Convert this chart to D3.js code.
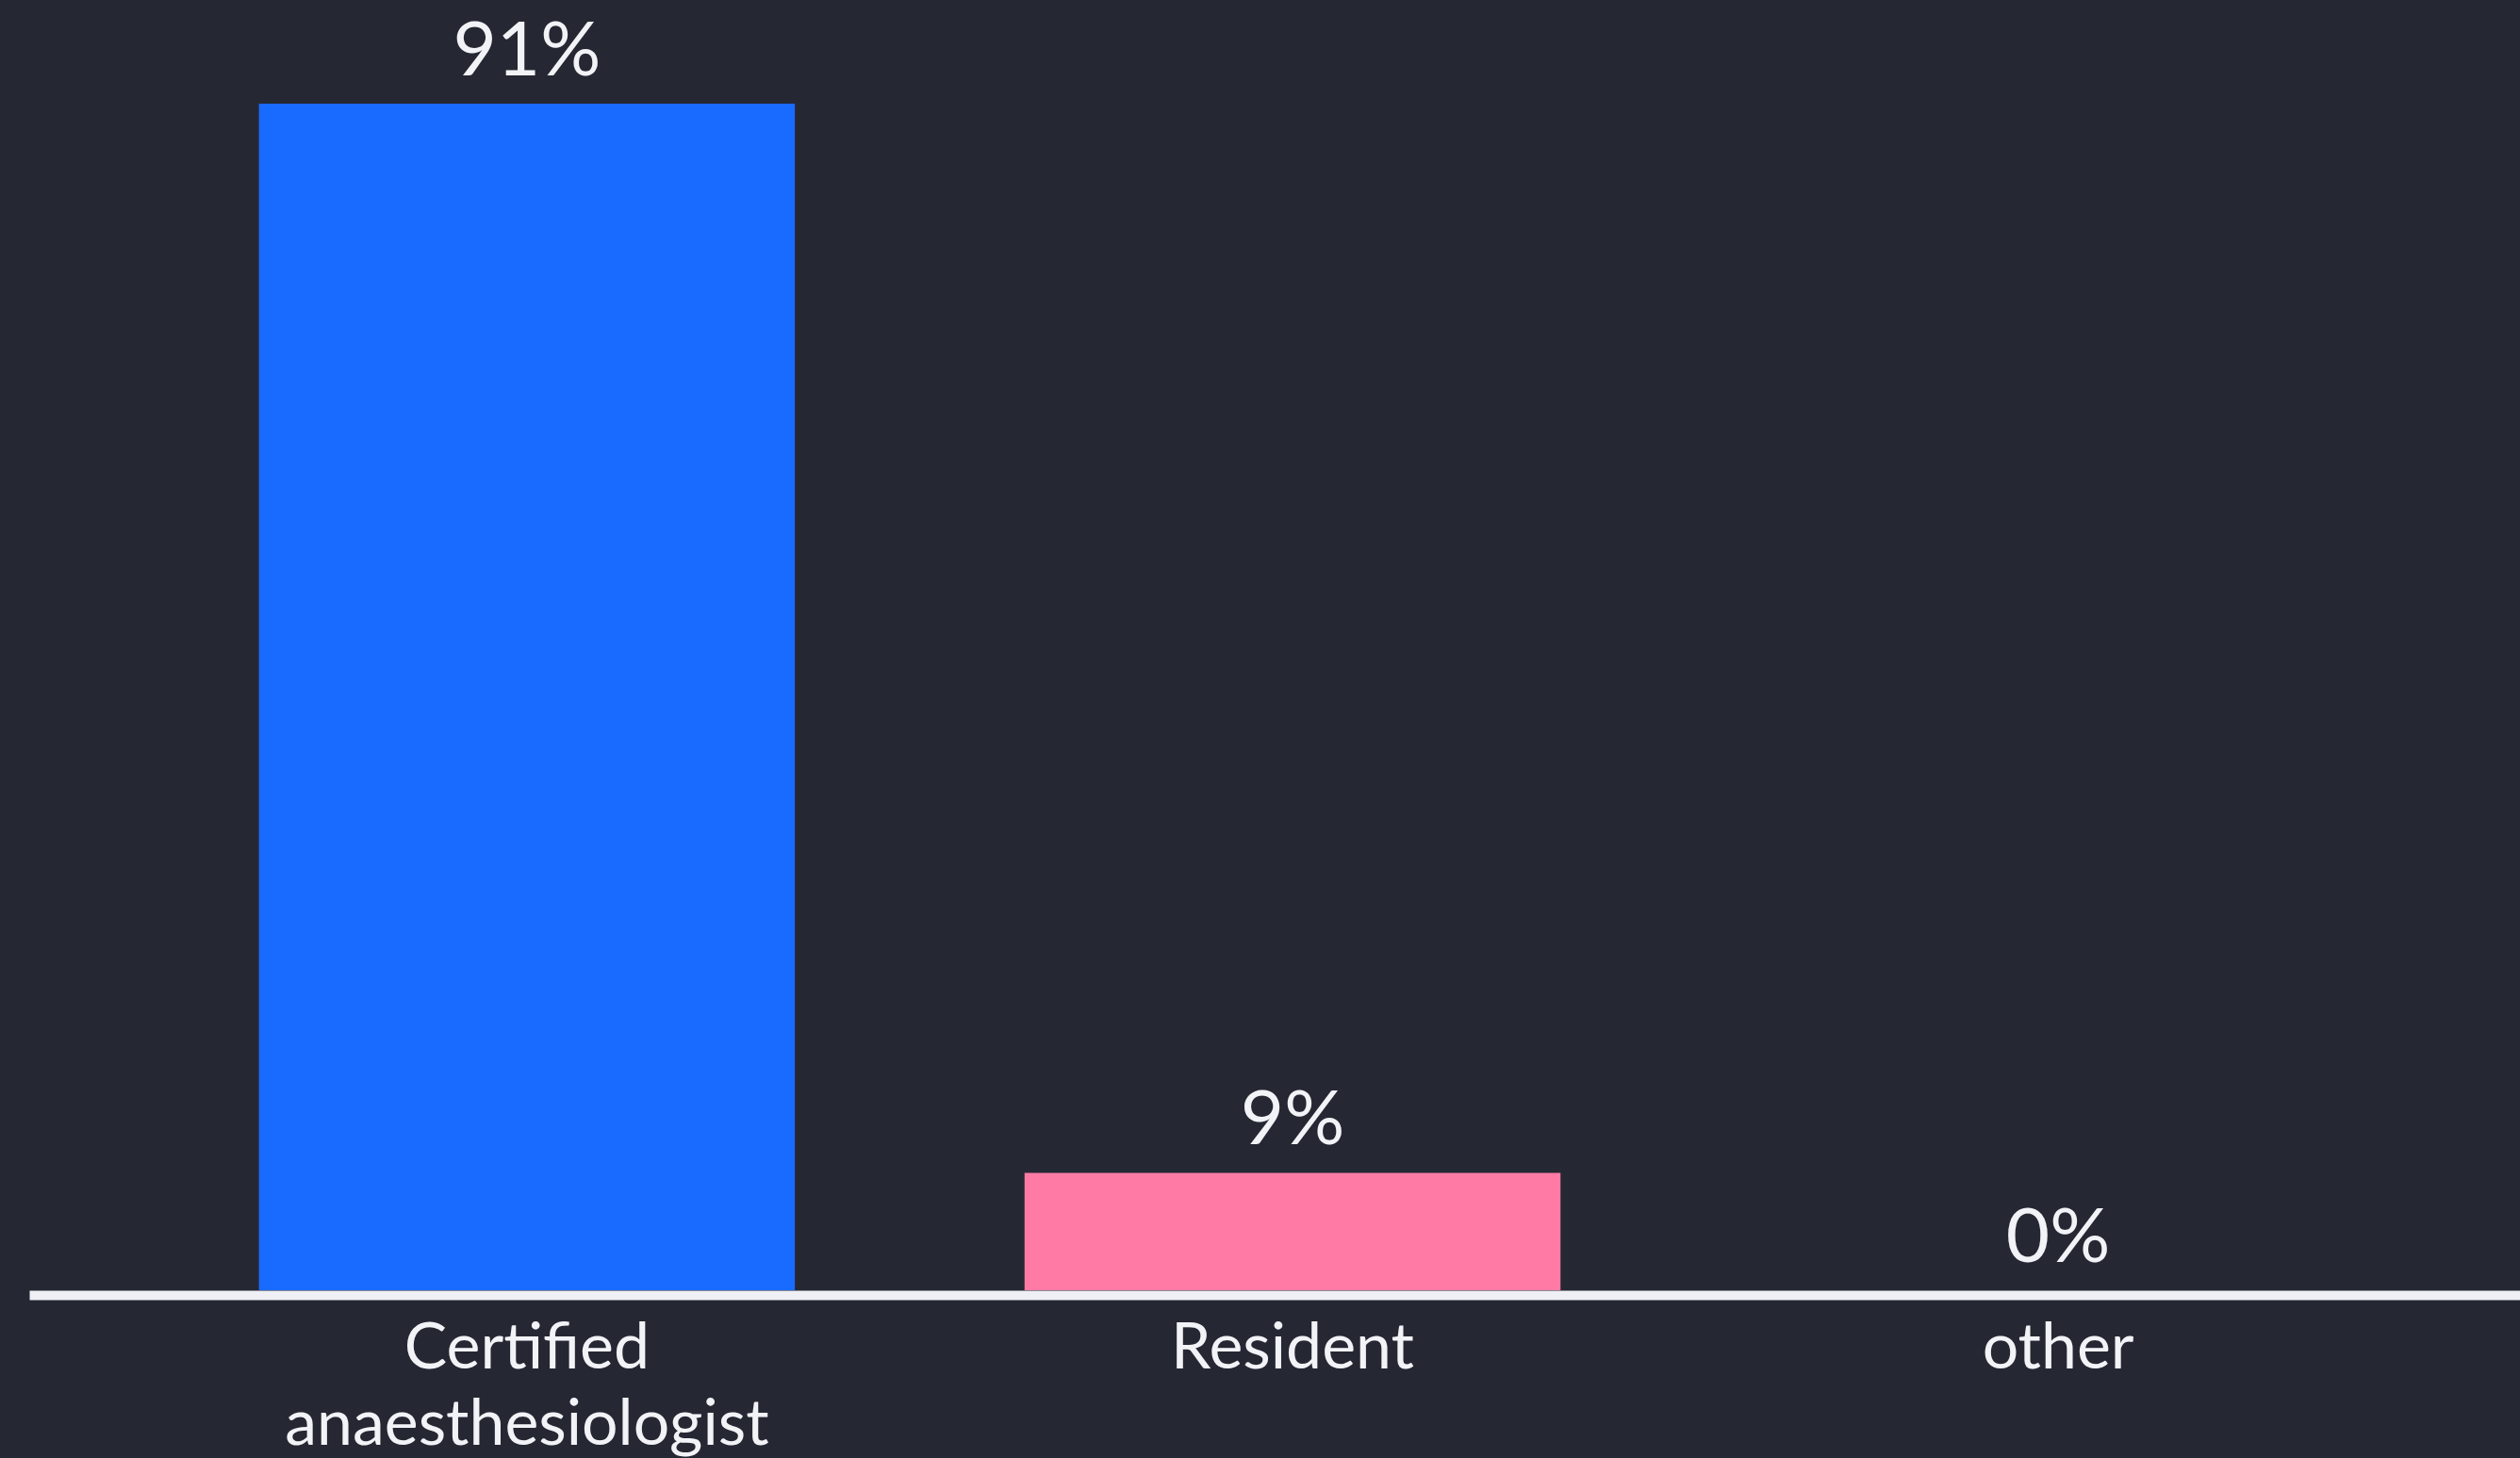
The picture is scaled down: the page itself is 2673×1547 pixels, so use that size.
<!DOCTYPE html>
<html>
<head>
<meta charset="utf-8">
<script src="https://cdn.jsdelivr.net/npm/d3@7"></script>
<style>
    html, body { margin: 0; padding: 0; background: #252833; }
    svg { display: block; }
</style>
</head>
<body>
<div id="chart"></div>
<script>
// answers and their share of votes (percent)
const categories = ["Certified anaesthesiologist", "Resident", "other"];
const labelLines = [["Certified", "anaesthesiologist"], ["Resident"], ["other"]];
const values = [91, 9, 0];
const colors = ["#196aff", "#ff7ba6", "#8fd6c6"];

const width = 2673;
const height = 1547;
const baseline = 1369;

const svg = d3.select("#chart").append("svg")
    .attr("width", width)
    .attr("height", height)
    .style("background", "#252833");

const x = d3.scaleBand()
    .domain(categories)
    .range([31, 2711])
    .padding(0.3);

const y = d3.scaleLinear()
    .domain([0, d3.max(values)])
    .range([baseline, 110]);

const data = categories.map((c, i) => ({ cat: c, value: values[i], color: colors[i], lines: labelLines[i] }));

// bars
svg.append("g").selectAll("rect")
    .data(data)
    .enter()
    .append("rect")
    .attr("x", d => x(d.cat))
    .attr("y", d => y(d.value))
    .attr("width", x.bandwidth())
    .attr("height", d => baseline - y(d.value))
    .attr("fill", d => d.color);

// value labels above the bars
svg.append("g").selectAll("text")
    .data(data)
    .enter()
    .append("text")
    .attr("x", d => x(d.cat) + x.bandwidth() / 2)
    .attr("y", d => y(d.value) - 30)
    .attr("text-anchor", "middle")
    .attr("fill", "#f2f3f7")
    .style("font-family", "Lato, sans-serif")
    .style("font-size", "80px")
    .text(d => d.value + "%");

// x axis: thick white baseline, wrapped category labels
const axis = svg.append("g")
    .attr("transform", "translate(0," + (baseline + 5) + ")")
    .call(d3.axisBottom(x).tickSize(0).tickSizeOuter(0));

axis.select(".domain")
    .attr("stroke", "#eef0f5")
    .attr("stroke-width", 10);

axis.selectAll(".tick text").each(function(d, i) {
    const t = d3.select(this)
        .attr("y", null)
        .attr("dy", null)
        .attr("fill", "#f2f3f7")
        .style("font-family", "Lato, sans-serif")
        .style("font-size", "68px")
        .text(null);
    labelLines[i].forEach((line, j) => {
        t.append("tspan")
            .attr("x", 0)
            .attr("y", 78 + j * 81)
            .text(line);
    });
});
</script>
</body>
</html>
